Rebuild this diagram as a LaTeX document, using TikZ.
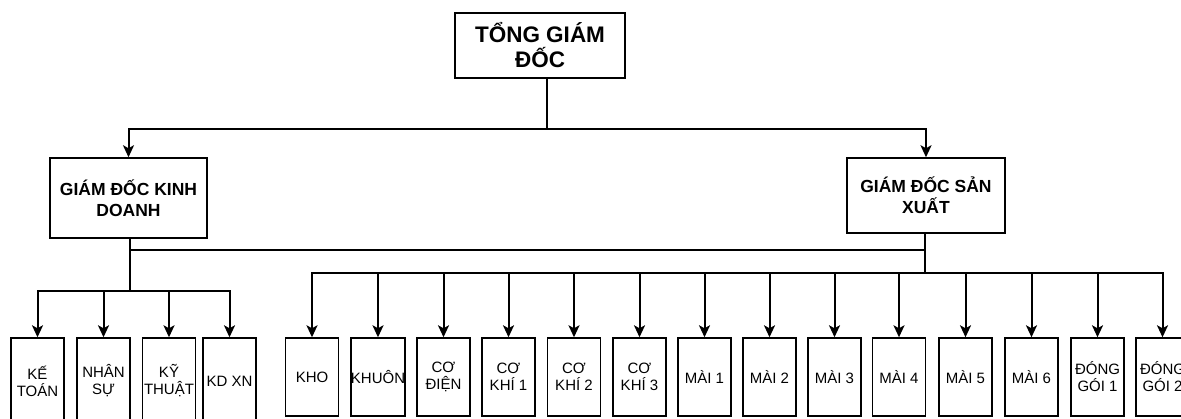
\documentclass[tikz,border=0pt]{standalone}
\usepackage{fontspec}
\setmainfont{Liberation Sans}
\usetikzlibrary{arrows.meta,positioning,calc}
\tikzset{
  tgd/.style={draw,line width=1.5pt,align=center,inner sep=0pt,
    font=\fontsize{22.5}{25}\selectfont\bfseries,minimum width=170pt,minimum height=65pt},
  gd/.style={draw,line width=1.5pt,align=center,inner sep=0pt,
    font=\fontsize{17.5}{21}\selectfont\bfseries,minimum width=157pt},
  phong/.style={draw,line width=1.4pt,align=center,inner sep=0pt,
    font=\fontsize{15}{17}\selectfont,minimum width=53pt},
  noi/.style={line width=2pt},
  mui/.style={noi,-{Stealth[length=12pt,width=11pt,inset=3pt]}},
}

\begin{document}
\begin{tikzpicture}[x=1pt,y=-1pt]
  \fill[white] (0,0) rectangle (1181,419);
  \clip (0,0) rectangle (1181,419);

  \node[tgd] (tgd) at (540,45.5) {TỔNG GIÁM\\ĐỐC};
  \node[gd,minimum height=80pt] (kd) at (128.5,198) {GIÁM ĐỐC KINH\\DOANH};
  \node[gd,minimum height=75pt,minimum width=158pt] (sx) at (926,195.5) {GIÁM ĐỐC SẢN\\XUẤT};

  % cac phong ban
  \foreach \x/\n/\t in {37.5/kt/{KẾ\\TOÁN},103.5/ns/{NHÂN\\SỰ},169/kth/{KỸ\\THUẬT},229.5/kdxn/{KD XN}}
    \node[phong,minimum height=86pt] (\n) at (\x,381) {\t};
  \foreach \x/\n/\t in {312/kho/{KHO},378/khuon/{KHUÔN},443.5/cd/{CƠ\\ĐIỆN},508.5/ck1/{CƠ\\KHÍ 1},
      574/ck2/{CƠ\\KHÍ 2},639.5/ck3/{CƠ\\KHÍ 3},704.5/m1/{MÀI 1},769.5/m2/{MÀI 2},834.5/m3/{MÀI 3},
      899/m4/{MÀI 4},965.5/m5/{MÀI 5},1031.5/m6/{MÀI 6},1097.5/dg1/{ĐÓNG\\GÓI 1},1162.5/dg2/{ĐÓNG\\GÓI 2}}
    \node[phong,minimum height=78pt] (\n) at (\x,377) {\t};

  % duong noi
  \coordinate (tgdb) at ($(tgd.south)+(7,50)$);
  \draw[noi] ([xshift=7pt]tgd.south) -- (tgdb);
  \draw[mui] (tgdb) -| (kd.north);
  \draw[mui] (tgdb) -| (sx.north);

  \coordinate (kdb) at ($(kd.south)+(1.5,52)$);
  \draw[noi] ([xshift=1.5pt]kd.south) -- (kdb);
  \foreach \n in {kt,ns,kth,kdxn}
    \draw[mui] (kdb) -| (\n.north);

  \coordinate (sxb) at ($(sx.south)+(-1,39)$);
  \draw[noi] ([xshift=-1pt]sx.south) -- (sxb);
  \foreach \n in {kho,khuon,cd,ck1,ck2,ck3,m1,m2,m3,m4,m5,m6,dg1,dg2}
    \draw[mui] (sxb) -| (\n.north);

  \draw[noi] (kdb |- 0,250) -- (sxb |- 0,250);
\end{tikzpicture}
\end{document}
